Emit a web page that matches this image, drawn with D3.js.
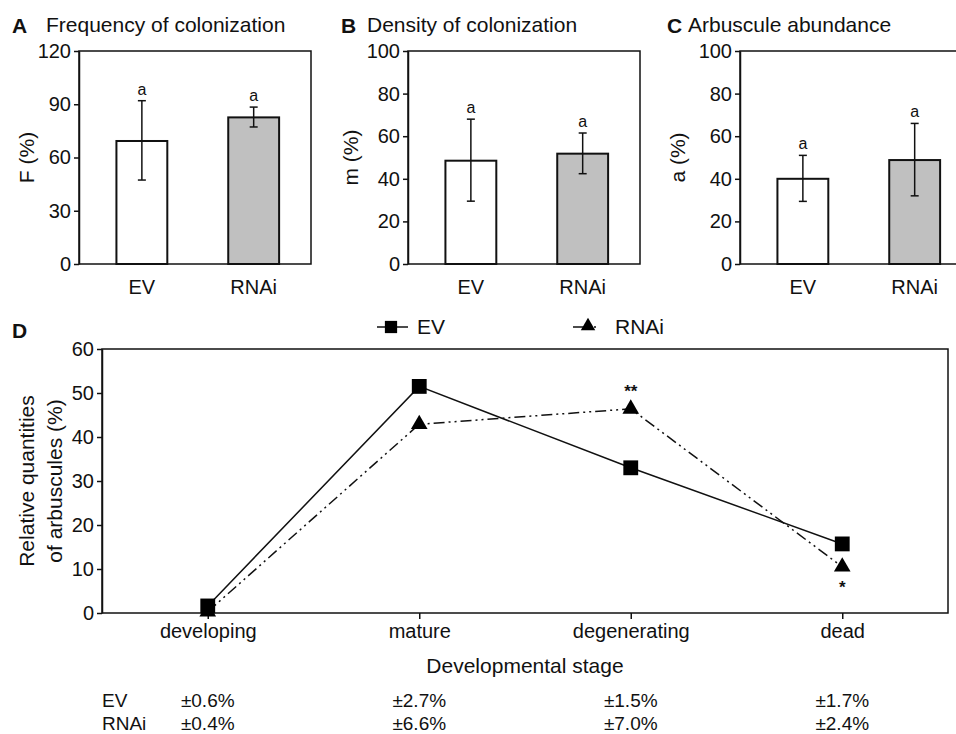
<!DOCTYPE html>
<html lang="en">
<head>
<meta charset="UTF-8">
<title>Arbuscular colonization EV vs RNAi</title>
<style>
  html, body { margin: 0; background: #fff; }
  svg text { font-family: "Liberation Sans", Arial, sans-serif; fill: #111; }
  .axis path, .axis line { stroke: #111; stroke-width: 1.5px; }
  .axis text { font-size: 20px; }
  .frame { fill: none; stroke: #111; stroke-width: 1.5px; }
  .bar { stroke: #111; stroke-width: 2px; }
  .err { stroke: #111; stroke-width: 1.5px; }
</style>
</head>
<body>
<svg width="956" height="734"></svg>
<script src="https://d3js.org/d3.v7.min.js"></script>
<script>

// ---- data ----
const groups = ["EV", "RNAi"];
const barFill = ["#ffffff", "#c0c0c0"];

const freqMean = [69.3, 82.6];
const freqLow  = [47.3, 77.2];
const freqHigh = [92.0, 88.4];
const freqTicks = [0, 30, 60, 90, 120];

const densMean = [48.5, 51.8];
const densLow  = [29.5, 42.4];
const densHigh = [68.0, 61.5];

const arbMean = [40.0, 48.8];
const arbLow  = [29.4, 32.0];
const arbHigh = [51.0, 66.0];
const pctTicks = [0, 20, 40, 60, 80, 100];

const barLetters = ["a", "a"];

const stages = ["developing", "mature", "degenerating", "dead"];
const evStage   = [1.6, 51.5, 33.0, 15.7];
const rnaiStage = [0.3, 42.9, 46.4, 10.5];
const rnaiSig   = ["", "", "**", "*"];
const stageTicks = [0, 10, 20, 30, 40, 50, 60];
const evErr   = ["±0.6%", "±2.7%", "±1.5%", "±1.7%"];
const rnaiErr = ["±0.4%", "±6.6%", "±7.0%", "±2.4%"];

const svg = d3.select("svg");

// ---- small bar panels A, B, C ----
function barPanel(opt) {
  const w = 232, h = 213;
  const g = svg.append("g").attr("transform", "translate(" + opt.left + ",51)");

  const x = d3.scaleBand().domain(groups).range([0, w])
      .paddingInner(0.545).paddingOuter(0.31).align(0.54);
  const y = d3.scaleLinear().domain(opt.domain).range([h, 0]);

  g.append("rect").attr("class", "frame").attr("width", w).attr("height", h);

  g.append("g").attr("class", "axis")
      .call(d3.axisLeft(y).tickValues(opt.ticks).tickSize(5).tickSizeOuter(0).tickPadding(3));

  g.selectAll(".bar").data(groups).join("rect")
      .attr("class", "bar")
      .attr("x", d => x(d))
      .attr("width", x.bandwidth())
      .attr("y", (d, i) => y(opt.mean[i]))
      .attr("height", (d, i) => h - y(opt.mean[i]))
      .attr("fill", (d, i) => barFill[i]);

  const cap = 4;
  groups.forEach((d, i) => {
    const cx = x(d) + x.bandwidth() / 2;
    g.append("line").attr("class", "err")
        .attr("x1", cx).attr("x2", cx).attr("y1", y(opt.low[i])).attr("y2", y(opt.high[i]));
    [opt.low[i], opt.high[i]].forEach(v => {
      g.append("line").attr("class", "err")
          .attr("x1", cx - cap).attr("x2", cx + cap).attr("y1", y(v)).attr("y2", y(v));
    });
    g.append("text").attr("x", cx).attr("y", y(opt.high[i]) - 6)
        .attr("text-anchor", "middle").style("font-size", "16px").text(barLetters[i]);
    g.append("text").attr("x", cx).attr("y", h + 30)
        .attr("text-anchor", "middle").style("font-size", "20px").text(d);
  });

  g.append("text")
      .attr("transform", "translate(" + opt.ylabX + "," + (h / 2) + ") rotate(-90)")
      .attr("text-anchor", "middle").style("font-size", "21px").text(opt.ylab);

  svg.append("text").attr("x", opt.letterX).attr("y", 33)
      .style("font-size", "21px").style("font-weight", "bold").text(opt.letter);
  svg.append("text").attr("x", opt.titleX).attr("y", 32)
      .style("font-size", "21px").text(opt.title);
}

barPanel({left: 79, domain: [0, 120], ticks: freqTicks, mean: freqMean, low: freqLow, high: freqHigh,
  ylab: "F (%)", ylabX: -45, letter: "A", letterX: 12, title: "Frequency of colonization", titleX: 46});
barPanel({left: 408, domain: [0, 100], ticks: pctTicks, mean: densMean, low: densLow, high: densHigh,
  ylab: "m (%)", ylabX: -50, letter: "B", letterX: 341, title: "Density of colonization", titleX: 367});
barPanel({left: 740, domain: [0, 100], ticks: pctTicks, mean: arbMean, low: arbLow, high: arbHigh,
  ylab: "a (%)", ylabX: -55, letter: "C", letterX: 667, title: "Arbuscule abundance", titleX: 688});

// ---- panel D: line chart ----
const dLeft = 102, dTop = 349, dW = 846, dH = 264;
const gd = svg.append("g").attr("transform", "translate(" + dLeft + "," + dTop + ")");

const xs = d3.scalePoint().domain(stages).range([0, dW]).padding(0.5);
const ys = d3.scaleLinear().domain([0, 60]).range([dH, 0]);

gd.append("rect").attr("class", "frame").attr("width", dW).attr("height", dH);

gd.append("g").attr("class", "axis")
    .call(d3.axisLeft(ys).tickValues(stageTicks).tickSize(5).tickSizeOuter(0).tickPadding(3));

const xAxisD = gd.append("g").attr("class", "axis")
    .attr("transform", "translate(0," + dH + ")")
    .call(d3.axisBottom(xs).tickSize(6).tickSizeOuter(0).tickPadding(5));
xAxisD.select(".domain").remove();

const line = d3.line().x((d, i) => xs(stages[i])).y(d => ys(d));

gd.append("path").datum(rnaiStage)
    .attr("fill", "none").attr("stroke", "#111").attr("stroke-width", 1.5)
    .attr("stroke-dasharray", "11,4,2,4,2,4")
    .attr("d", line);
gd.append("path").datum(evStage)
    .attr("fill", "none").attr("stroke", "#111").attr("stroke-width", 1.5)
    .attr("d", line);

const sq = d3.symbol().type(d3.symbolSquare).size(220);
const tri = d3.symbol().type(d3.symbolTriangle).size(120);

gd.selectAll(".ev-pt").data(evStage).join("path")
    .attr("class", "ev-pt")
    .attr("transform", (d, i) => "translate(" + xs(stages[i]) + "," + ys(d) + ")")
    .attr("d", sq).attr("fill", "#000");
gd.selectAll(".rnai-pt").data(rnaiStage).join("path")
    .attr("class", "rnai-pt")
    .attr("transform", (d, i) => "translate(" + xs(stages[i]) + "," + ys(d) + ")")
    .attr("d", tri).attr("fill", "#000");

// significance marks: ** above, * below
rnaiSig.forEach((s, i) => {
  if (!s) return;
  const above = s === "**";
  gd.append("text")
      .attr("x", xs(stages[i]))
      .attr("y", ys(rnaiStage[i]) + (above ? -12 : 26))
      .attr("text-anchor", "middle").style("font-size", "17px").style("font-weight", "bold")
      .text(s);
});

gd.append("text").attr("x", dW / 2).attr("y", dH + 60)
    .attr("text-anchor", "middle").style("font-size", "21px").text("Developmental stage");

gd.append("text")
    .attr("transform", "translate(-68," + (dH / 2) + ") rotate(-90)")
    .attr("text-anchor", "middle").style("font-size", "21px").text("Relative quantities");
gd.append("text")
    .attr("transform", "translate(-40," + (dH / 2) + ") rotate(-90)")
    .attr("text-anchor", "middle").style("font-size", "21px").text("of arbuscules (%)");

svg.append("text").attr("x", 12).attr("y", 338)
    .style("font-size", "21px").style("font-weight", "bold").text("D");

// legend
const leg = svg.append("g");
leg.append("line").attr("x1", 377).attr("x2", 408).attr("y1", 327).attr("y2", 327)
    .attr("stroke", "#111").attr("stroke-width", 1.5);
leg.append("path").attr("transform", "translate(391,327)").attr("d", sq.size(150)).attr("fill", "#000");
leg.append("text").attr("x", 417).attr("y", 334).style("font-size", "21px").text(groups[0]);
leg.append("line").attr("x1", 573).attr("x2", 600).attr("y1", 327).attr("y2", 327)
    .attr("stroke", "#111").attr("stroke-width", 1.5).attr("stroke-dasharray", "11,4,2,4,2,4");
leg.append("path").attr("transform", "translate(588,326)").attr("d", tri.size(90)).attr("fill", "#000");
leg.append("text").attr("x", 615).attr("y", 334).style("font-size", "21px").text(groups[1]);

// error table under the chart
const rows = [{name: groups[0], vals: evErr, y: 707}, {name: groups[1], vals: rnaiErr, y: 730}];
rows.forEach(r => {
  svg.append("text").attr("x", dLeft).attr("y", r.y).style("font-size", "19px").text(r.name);
  r.vals.forEach((v, i) => {
    svg.append("text").attr("x", dLeft + xs(stages[i])).attr("y", r.y)
        .attr("text-anchor", "middle").style("font-size", "19px").text(v);
  });
});

</script>
</body>
</html>
